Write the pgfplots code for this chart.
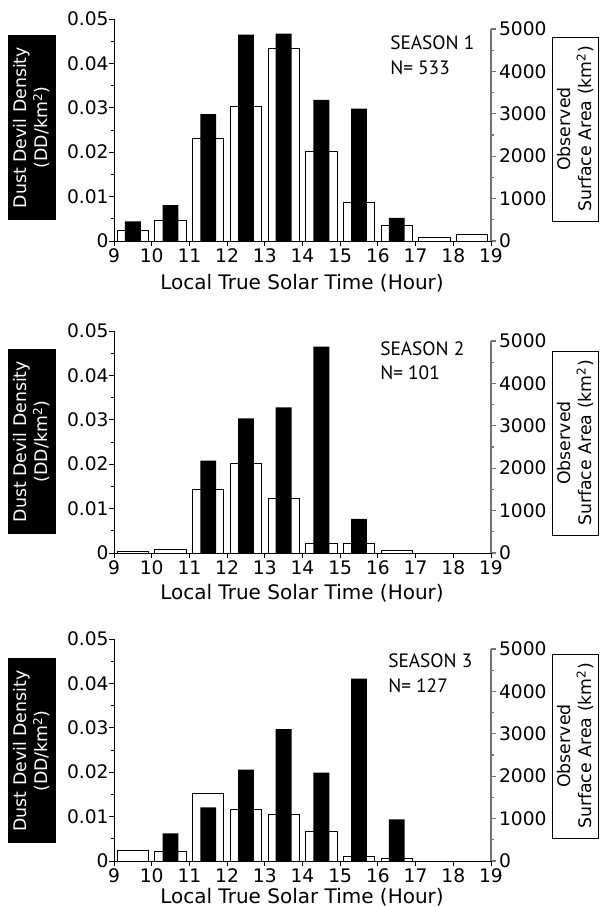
\documentclass[border=0pt]{standalone}
\usepackage{pgfplots}
\pgfplotsset{compat=1.18}
\usepackage{fontspec}
\setmainfont{DejaVu Sans}
\newfontfamily\seasonfont{PT Sans}
\pgfplotsset{
  common/.style={scale only axis, width=282.75pt, xmin=9, xmax=19, ymin=0,
    enlargelimits=false, clip=false, ybar, bar shift=0pt,
    scaled y ticks=false, scaled x ticks=false,
    tick align=outside, major tick length=3.5pt, minor tick length=2.5pt,
    ticklabel style={font=\fontsize{14}{16}\selectfont},
    /pgf/number format/assume math mode=true},
  leftax/.style={common, height=166.5pt, ymax=0.05,
    axis x line*=bottom, axis y line*=left,
    axis line style={-, black, line width=0.7pt},
    xtick={9,10,...,19}, xticklabels={9,10,11,12,13,14,15,16,17,18,19},
    xticklabel style={yshift=1pt},
    ytick={0,0.01,0.02,0.03,0.04,0.05}, yticklabels={0,0.01,0.02,0.03,0.04,0.05},
    minor ytick={0.005,0.015,0.025,0.035,0.045},
    yticklabel style={xshift=3pt},
    tick style={black, line width=0.7pt}, bar width=0.42},
  rightax/.style={common, height=159pt, ymax=5000,
    axis x line=none, axis y line*=right,
    axis line style={-, black!55, line width=0.9pt},
    xtick=\empty,
    ytick={0,1000,2000,3000,4000,5000}, yticklabels={0,1000,2000,3000,4000,5000},
    minor ytick={500,1500,2500,3500,4500},
    yticklabel style={xshift=-1pt},
    tick style={black!55, line width=0.8pt}, bar width=0.83},
  whitebar/.style={fill=white, draw=black, line width=0.7pt},
  blackbar/.style={fill=black, draw=none},
}
\newcommand{\leftbox}[1]{\node[fill=black, text=white, rotate=90, minimum width=138.75pt, minimum height=36pt, inner sep=0pt, align=center, font=\fontsize{13}{15.8}\selectfont] at #1 {Dust Devil Density\\(DD/km\textsuperscript{2})};}
\newcommand{\rightbox}[1]{\node[fill=white, draw=black, line width=0.6pt, rotate=90, minimum width=138pt, minimum height=35pt, inner sep=0pt, align=center, font=\fontsize{13}{15.8}\selectfont] at #1 {Observed\\Surface Area (km\textsuperscript{2})};}
\newcommand{\xlab}[1]{\node[font=\fontsize{15}{17}\selectfont] at #1 {Local True Solar Time (Hour)};}
\newcommand{\season}[3]{\node[anchor=north west, font=\seasonfont\fontsize{14.5}{18.5}\selectfont, align=left, inner sep=0pt] at #1 {SEASON #2\\N= #3};}
\begin{document}
\begin{tikzpicture}
\path[use as bounding box] (0,0) rectangle (450pt,680.25pt);
% ---------------- Season 1 ----------------
\begin{axis}[rightax, at={(85.5pt,499.5pt)}, anchor=south west]
\addplot[whitebar] coordinates {(9.5,240) (10.5,488) (11.5,2425) (12.5,3173) (13.5,4551) (14.5,2118) (15.5,906) (16.5,370) (17.5,87) (18.5,157)};
\end{axis}
\begin{axis}[leftax, at={(85.5pt,499.5pt)}, anchor=south west]
\addplot[blackbar] coordinates {(9.5,0.0044) (10.5,0.0081) (11.5,0.0286) (12.5,0.0465) (13.5,0.0467) (14.5,0.0318) (15.5,0.0298) (16.5,0.0052)};
\end{axis}
\season{(292.5pt,653.5pt)}{1}{533}
\leftbox{(24pt,584.6pt)}
\rightbox{(431.6pt,583.5pt)}
\xlab{(226.5pt,468pt)}
% ---------------- Season 2 ----------------
\begin{axis}[rightax, at={(85.5pt,265.5pt)}, anchor=south west]
\addplot[whitebar] coordinates {(9.5,30) (10.5,95) (11.5,1488) (12.5,2102) (13.5,1291) (14.5,228) (15.5,228) (16.5,55)};
\end{axis}
\begin{axis}[leftax, at={(85.5pt,265.5pt)}, anchor=south west]
\addplot[blackbar] coordinates {(11.5,0.0208) (12.5,0.0303) (13.5,0.0328) (14.5,0.0465) (15.5,0.0077)};
\end{axis}
\season{(285pt,424.5pt)}{2}{101}
\leftbox{(24pt,349.1pt)}
\rightbox{(431.6pt,348pt)}
\xlab{(226.5pt,235.5pt)}
% ---------------- Season 3 ----------------
\begin{axis}[rightax, at={(85.5pt,34.5pt)}, anchor=south west]
\addplot[whitebar] coordinates {(9.5,252) (10.5,228) (11.5,1583) (12.5,1213) (13.5,1094) (14.5,685) (15.5,102) (16.5,63)};
\end{axis}
\begin{axis}[leftax, at={(85.5pt,34.5pt)}, anchor=south west]
\addplot[blackbar] coordinates {(10.5,0.0062) (11.5,0.0121) (12.5,0.0206) (13.5,0.0297) (14.5,0.0199) (15.5,0.0411) (16.5,0.0094)};
\end{axis}
\season{(291pt,190pt)}{3}{127}
\leftbox{(24pt,117pt)}
\rightbox{(431.6pt,120.75pt)}
\xlab{(226.5pt,7.5pt)}
\end{tikzpicture}
\end{document}
